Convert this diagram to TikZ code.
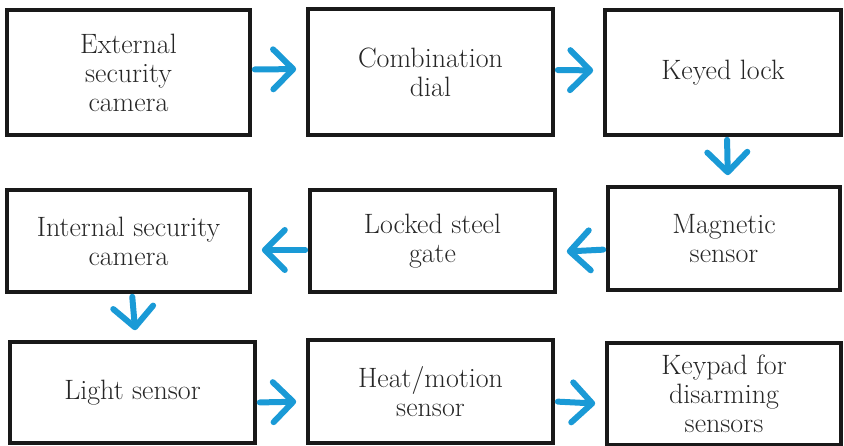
\documentclass[tikz,border=0pt]{standalone}
\usetikzlibrary{arrows.meta}
\definecolor{arrowblue}{HTML}{1A9AD6}
\definecolor{inkgray}{HTML}{262626}
\begin{document}
\begin{tikzpicture}[x=1pt,y=-1pt,
  stepbox/.style={draw=black!90, line width=3.6pt, rectangle, align=center,
    text=inkgray, font=\fontsize{28}{29}\selectfont, inner sep=0pt},
  arr/.style={draw=arrowblue, line width=6pt, line cap=round, line join=round,
    -{Straight Barb[length=20pt,width=40pt,round]}, shorten <=3pt, shorten >=10pt}
]
\useasboundingbox (0,0) rectangle (844,446);
\node[stepbox, minimum width=243pt, minimum height=125pt] (a) at (128.5,72.5) {External\\security\\camera};
\node[stepbox, minimum width=245pt, minimum height=126pt] (b) at (430.5,72) {Combination\\dial};
\node[stepbox, minimum width=236pt, minimum height=125pt] (c) at (723,72.5) {Keyed lock};
\node[stepbox, minimum width=232pt, minimum height=103pt] (d) at (724,238.5) {Magnetic\\sensor};
\node[stepbox, minimum width=245pt, minimum height=102pt] (e) at (432.5,241) {Locked steel\\gate};
\node[stepbox, minimum width=243pt, minimum height=102pt] (f) at (128.5,241) {Internal security\\camera};
\node[stepbox, minimum width=245pt, minimum height=101pt] (g) at (132.5,392.5) {Light sensor};
\node[stepbox, minimum width=245pt, minimum height=103pt] (h) at (430.5,391.5) {Heat/motion\\sensor};
\node[stepbox, minimum width=234pt, minimum height=102pt] (i) at (724,394) {Keypad for\\disarming\\sensors};

\draw[arr] ([yshift=3pt]a.east) -- ([yshift=3pt]b.west);
\draw[arr] ([yshift=2pt]b.east) -- ([yshift=2pt]c.west);
\draw[arr] ([xshift=4pt]c.south) -- ([xshift=4pt]d.north);
\draw[arr] ([yshift=-11pt]d.west) -- ([yshift=-11pt]e.east);
\draw[arr] ([yshift=-9pt]e.west) -- ([yshift=-9pt]f.east);
\draw[arr] ([xshift=3.5pt]f.south) -- ([xshift=3.5pt]g.north);
\draw[arr] ([yshift=-10pt]g.east) -- ([yshift=-10pt]h.west);
\draw[arr] ([yshift=-10pt]h.east) -- ([yshift=-10pt]i.west);
\end{tikzpicture}
\end{document}
